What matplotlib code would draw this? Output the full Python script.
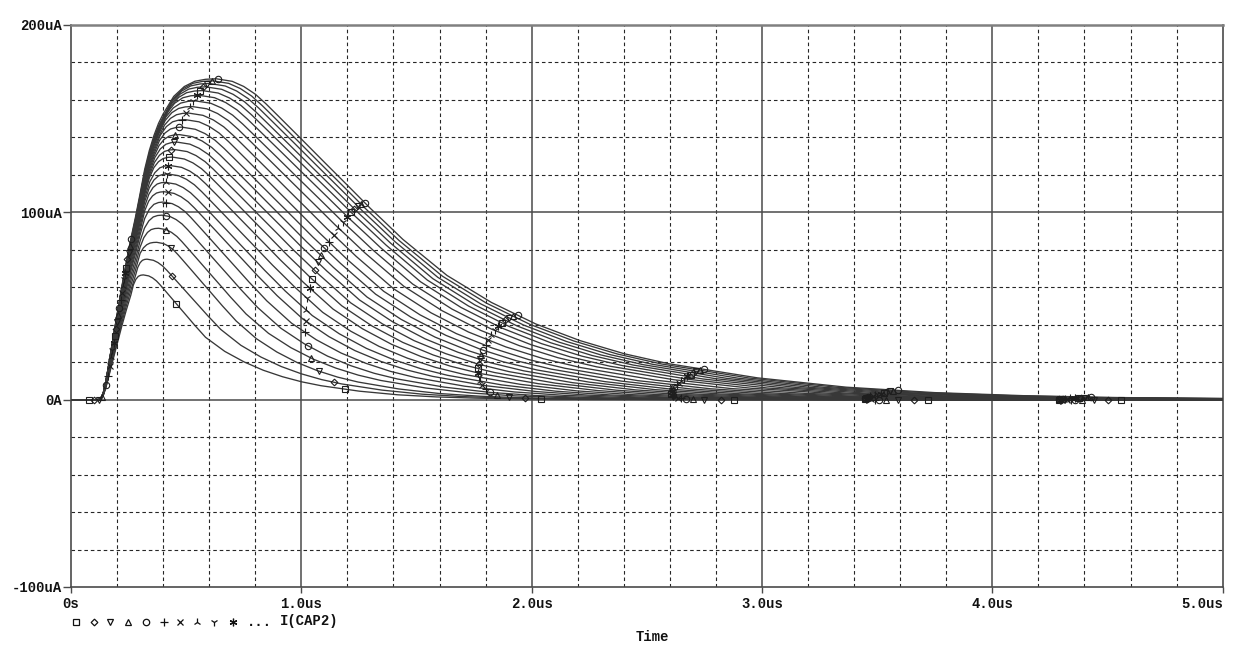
import numpy as np
import matplotlib
matplotlib.use("Agg")
import matplotlib.pyplot as plt
from matplotlib.lines import Line2D
from matplotlib.ticker import FixedLocator, FixedFormatter

# ---------------- data (time in us, current in uA) ----------------
# common rising edge of the fastest trace
rise_t = [0.0, 0.10, 0.12, 0.13, 0.14, 0.15, 0.16, 0.18, 0.20, 0.22, 0.24,
          0.26, 0.28, 0.30, 0.32, 0.34, 0.36, 0.38, 0.40]
rise_v = [0, 0, 0, 0.8, 3.5, 9, 16, 31, 45.5, 60, 73.5,
          86, 97.5, 110, 123, 133, 141, 147.5, 152.5]

# per-trace values of the 25 sweep traces, lowest -> highest
rise_gain = [0.65, 0.68, 0.71, 0.74, 0.77, 0.80, 0.82, 0.84, 0.86, 0.875, 0.89, 0.90, 0.91,
             0.92, 0.93, 0.94, 0.95, 0.96, 0.965, 0.97, 0.975, 0.98, 0.985, 0.99, 1.0]
peel_t = [0.26, 0.28, 0.30, 0.30, 0.30, 0.30, 0.32, 0.32, 0.32, 0.32, 0.34, 0.34, 0.34,
          0.36, 0.36, 0.36, 0.38, 0.38, 0.38, 0.38, 0.40, 0.40, 0.40, 0.40, 0.40]
peak_t = [0.314, 0.33, 0.372, 0.38, 0.395, 0.40, 0.405, 0.41, 0.42, 0.43, 0.44, 0.45, 0.46,
          0.47, 0.48, 0.495, 0.51, 0.525, 0.54, 0.555, 0.57, 0.585, 0.60, 0.615, 0.63]
peak_v = [66.6, 75.0, 84.0, 91.5, 98.5, 105.5, 111.0, 116.0, 120.5, 125.0, 129.5, 133.5, 137.5,
          141.5, 145.5, 149.5, 153.0, 156.5, 159.5, 162.5, 165.0, 167.0, 168.8, 170.2, 171.3]
half_w = [0.27, 0.32, 0.345, 0.38, 0.415, 0.45, 0.49, 0.52, 0.55, 0.58, 0.603, 0.627, 0.65,
          0.668, 0.69, 0.705, 0.728, 0.752, 0.772, 0.788, 0.798, 0.803, 0.806, 0.808, 0.81]
tail_w = [0.334, 0.35, 0.353, 0.39, 0.405, 0.43, 0.45, 0.47, 0.49, 0.51, 0.53, 0.55, 0.57,
          0.59, 0.61, 0.63, 0.65, 0.67, 0.685, 0.70, 0.715, 0.73, 0.745, 0.76, 0.77]

# normalised shape of the rounding, the peak and the tail
shoulder_a = [0.2, 0.4, 0.6, 0.8]
shoulder_g = [0.5, 0.78, 0.93, 0.985]
head_u = [0.0, 0.0864, 0.148, 0.21, 0.267, 0.333, 0.457, 0.58, 0.704, 0.827, 0.914, 1.0]
head_d = [1.0, 0.992, 0.976, 0.952, 0.922, 0.884, 0.812, 0.740, 0.668, 0.596, 0.548, 0.5]
tail_u = [0.25, 0.5, 0.75, 1.0, 1.25, 1.5, 2.0, 2.5, 3.0, 3.5, 4.0, 5.0, 6.0, 8.0]
tail_d = [0.387, 0.303, 0.236, 0.184, 0.143, 0.112, 0.068, 0.039, 0.022, 0.0125, 0.0068,
          0.002, 0.0006, 0.0]

# times of the PSpice symbol markers on each trace (7 marker rows)
mark_t1 = [0.08, 0.10, 0.12, 0.135, 0.152, 0.16, 0.168, 0.175, 0.18, 0.185, 0.19, 0.195, 0.20,
           0.205, 0.21, 0.215, 0.22, 0.225, 0.23, 0.234, 0.238, 0.245, 0.25, 0.255, 0.26]
mark_t2 = [0.457, 0.44, 0.435, 0.413, 0.413, 0.413, 0.419, 0.413, 0.416, 0.42, 0.426, 0.435, 0.445,
           0.452, 0.467, 0.481, 0.50, 0.515, 0.53, 0.545, 0.56, 0.575, 0.59, 0.61, 0.64]
mark_t3 = [1.19, 1.14, 1.075, 1.043, 1.029, 1.017, 1.022, 1.022, 1.024, 1.036, 1.046, 1.058, 1.072,
           1.085, 1.10, 1.12, 1.14, 1.16, 1.18, 1.20, 1.215, 1.23, 1.245, 1.26, 1.275]
mark_t4 = [2.04, 1.97, 1.90, 1.85, 1.82, 1.80, 1.785, 1.775, 1.77, 1.765, 1.765, 1.77, 1.775,
           1.78, 1.79, 1.80, 1.81, 1.825, 1.84, 1.855, 1.87, 1.885, 1.90, 1.92, 1.94]
mark_t5 = [2.88, 2.82, 2.75, 2.70, 2.67, 2.65, 2.635, 2.625, 2.615, 2.61, 2.605, 2.605, 2.61,
           2.615, 2.62, 2.63, 2.64, 2.65, 2.66, 2.675, 2.69, 2.70, 2.715, 2.73, 2.75]
mark_t6 = [3.72, 3.66, 3.59, 3.54, 3.51, 3.49, 3.475, 3.465, 3.455, 3.45, 3.445, 3.445, 3.45,
           3.455, 3.46, 3.47, 3.48, 3.49, 3.50, 3.515, 3.53, 3.54, 3.555, 3.57, 3.59]
mark_t7 = [4.56, 4.50, 4.44, 4.39, 4.36, 4.34, 4.325, 4.31, 4.30, 4.295, 4.29, 4.29, 4.295,
           4.30, 4.305, 4.315, 4.325, 4.335, 4.345, 4.36, 4.375, 4.385, 4.40, 4.415, 4.43]

x_ticks = [0, 1, 2, 3, 4, 5]
x_labels = ["0s", "1.0us", "2.0us", "3.0us", "4.0us", "5.0us"]
y_ticks = [-100, 0, 100, 200]
y_labels = ["-100uA", "0A", "100uA", "200uA"]
trace_name = "I(CAP2)"
x_title = "Time"

# ---------------- style ----------------
FONT = dict(family=["Liberation Mono", "DejaVu Sans Mono"], weight="bold", size=10)
LINE_C = "#383838"
MK_C = "#1e1e1e"
symbols = [("s", 5.0), ("D", 3.4), ("v", 5.0), ("^", 5.0), ("o", 4.6),
           ("+", 5.5), ("x", 4.6), ("2", 6.0), ("1", 6.0), ((6, 2, 0), 5.5)]

W, H = 1242, 663
fig = plt.figure(figsize=(W / 100, H / 100), dpi=100)
ax = fig.add_axes([71 / W, 1 - 587 / H, (1222.7 - 71) / W, (587 - 25) / H])
ax.set_xlim(0, 5)
ax.set_ylim(-100, 200)

# grid: dashed minor, solid major
minor_x = [i * 0.2 for i in range(1, 25) if i % 5 != 0]
minor_y = [v for v in range(-80, 200, 20) if v % 100 != 0]
for x in minor_x:
    ax.axvline(x, color="#262626", lw=0.8, ls=(0, (3.2, 2.6)), zorder=1)
for y in minor_y:
    ax.axhline(y, color="#262626", lw=0.8, ls=(0, (3.2, 2.6)), zorder=1)
for x in x_ticks[1:-1]:
    ax.axvline(x, color="#4a4a4a", lw=1.1, zorder=1)
for y in y_ticks[1:-1]:
    ax.axhline(y, color="#4a4a4a", lw=1.1, zorder=1)

n = len(peak_v)
mark_rows = [mark_t1, mark_t2, mark_t3, mark_t4, mark_t5, mark_t6, mark_t7]
for k in range(n):
    a = rise_gain[k]
    ts = [t for t in rise_t if t <= peel_t[k] + 1e-9]
    vs = [a * v for t, v in zip(rise_t, rise_v) if t <= peel_t[k] + 1e-9]
    t0, v0 = ts[-1], vs[-1]
    T, P = peak_t[k], peak_v[k]
    for aa, gg in zip(shoulder_a, shoulder_g):
        ts.append(t0 + aa * (T - t0))
        vs.append(v0 + gg * (P - v0))
    for uu, dd in zip(head_u, head_d):
        ts.append(T + uu * half_w[k])
        vs.append(P * dd)
    th = T + half_w[k]
    for uu, dd in zip(tail_u, tail_d):
        ts.append(th + uu * tail_w[k])
        vs.append(P * dd)
    if ts[-1] < 5.0:
        ts.append(5.0)
        vs.append(0.0)
    ts = np.array(ts)
    vs = np.array(vs)
    ax.plot(ts, vs, color=LINE_C, lw=0.95, zorder=3, solid_joinstyle="round")
    m, ms = symbols[k % len(symbols)]
    mt = [row[k] for row in mark_rows]
    mv = np.interp(mt, ts, vs)
    ax.plot(mt, mv, ls="none", marker=m, ms=ms, mfc="none", mec=MK_C, mew=0.8, zorder=4)

# frame
for side in ["left", "bottom", "right"]:
    ax.spines[side].set_color("#4a4a4a")
    ax.spines[side].set_linewidth(1.2)
ax.spines["top"].set_color("#808080")
ax.spines["top"].set_linewidth(1.8)

ax.xaxis.set_major_locator(FixedLocator(x_ticks))
ax.xaxis.set_major_formatter(FixedFormatter(x_labels))
ax.yaxis.set_major_locator(FixedLocator(y_ticks))
ax.yaxis.set_major_formatter(FixedFormatter(y_labels))
ax.tick_params(axis="x", direction="out", length=4.5, width=1.0, color="#4a4a4a", pad=2.5)
ax.tick_params(axis="y", direction="out", length=5.5, width=1.0, color="#4a4a4a", pad=0.8)
for lab in ax.get_xticklabels() + ax.get_yticklabels():
    lab.set_fontfamily(FONT["family"])
    lab.set_fontweight("bold")
    lab.set_fontsize(FONT["size"])
    lab.set_color("#111111")
ax.get_xticklabels()[-1].set_horizontalalignment("right")

# legend row under the axis
ly = 1 - 621.5 / H
leg_x = [76, 94, 110, 128, 146, 164, 180, 197, 214, 233]
for (m, ms), px in zip(symbols, leg_x):
    fig.add_artist(Line2D([px / W], [ly], transform=fig.transFigure, ls="none", marker=m,
                          ms=ms, mfc="none", mec="#111111", mew=0.9))
fig.text(259 / W, ly, "...", ha="center", va="center", color="#111111", **FONT)
fig.text(280 / W, ly, trace_name, ha="left", va="center", color="#111111", **FONT)
fig.text(652 / W, 1 - 637 / H, x_title, ha="center", va="center", color="#111111", **FONT)

fig.savefig("out.png", dpi=100, facecolor="white")
